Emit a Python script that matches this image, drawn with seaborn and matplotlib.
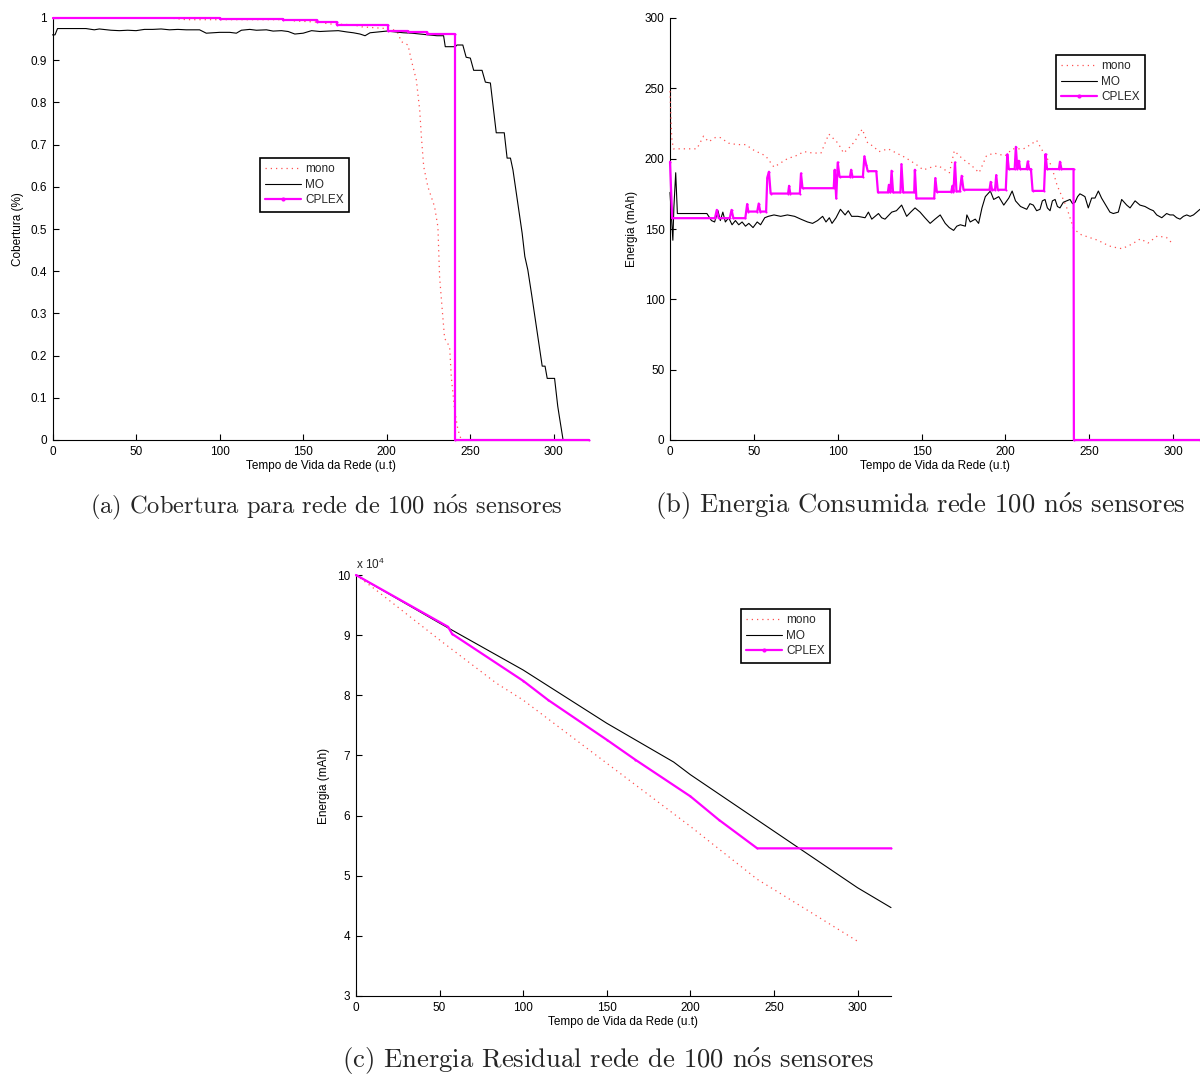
import matplotlib
matplotlib.use("Agg")
import matplotlib.pyplot as plt
from matplotlib.lines import Line2D
from matplotlib.ticker import FixedLocator, FuncFormatter
import seaborn as sns

# ---------------------------------------------------------------- data
# (a) coverage over the network lifetime
cob_mono_t = [0, 70, 80, 140, 145, 160, 165, 180, 185, 200,
              204, 206.7, 208.7, 212.7, 214.7, 217.7, 219.7, 220.7, 222.1, 224.6,
              228.6, 230.6, 231.6, 233.2, 234.6, 237.6, 238.6, 240.6, 242.6, 244.6]
cob_mono = [1.0, 1.0, 0.996, 0.996, 0.993, 0.990, 0.986, 0.984, 0.979, 0.975,
            0.972, 0.964, 0.944, 0.936, 0.900, 0.853, 0.782, 0.719, 0.648, 0.600,
            0.553, 0.505, 0.387, 0.308, 0.241, 0.221, 0.150, 0.071, 0.024, 0.0]

cob_mo_t = [0, 1.5, 3, 10, 20, 25, 28, 35, 40, 45,
            50, 55, 60, 65, 70, 75, 80, 88, 92, 96,
            100, 106, 110, 113, 118, 122, 128, 132, 137, 141,
            145, 150, 155, 160, 165, 171, 176, 180, 184, 187,
            190, 195, 200, 205, 210, 215, 220, 225, 230, 234,
            235, 241, 242, 245.5, 247.5, 250, 252, 257, 259, 262,
            265.5, 270.3, 272, 274, 275.5, 281, 282.6, 284.4, 286.7, 293,
            294.7, 296, 300.4, 302.3, 303.2, 305.5, 321]
cob_mo = [0.960, 0.960, 0.975, 0.975, 0.975, 0.972, 0.974, 0.971, 0.970, 0.971,
          0.970, 0.973, 0.973, 0.974, 0.972, 0.973, 0.972, 0.972, 0.964, 0.965,
          0.966, 0.966, 0.964, 0.971, 0.973, 0.971, 0.972, 0.969, 0.970, 0.968,
          0.962, 0.964, 0.970, 0.968, 0.969, 0.970, 0.967, 0.965, 0.962, 0.958,
          0.965, 0.967, 0.969, 0.967, 0.965, 0.964, 0.962, 0.960, 0.958, 0.958,
          0.932, 0.932, 0.936, 0.936, 0.907, 0.905, 0.876, 0.876, 0.848, 0.846,
          0.728, 0.728, 0.668, 0.668, 0.640, 0.490, 0.435, 0.403, 0.344, 0.175,
          0.175, 0.146, 0.146, 0.080, 0.057, 0.0, 0.0]

cob_cplex_t = [0, 100, 100, 138, 138, 158, 158, 170, 170, 200.7,
               200.7, 212.6, 212.6, 224, 224, 240.6, 240.6, 321]
cob_cplex = [1.0, 1.0, 0.998, 0.998, 0.995, 0.995, 0.990, 0.990, 0.983, 0.983,
             0.970, 0.970, 0.966, 0.966, 0.962, 0.962, 0.0, 0.0]

# (b) energy consumed per time unit
cons_mono_t = [0, 1, 2, 8, 16, 20, 23, 27, 30, 35,
               40, 45, 50, 57, 62, 66, 70, 75, 80, 85,
               90, 94.7, 100.2, 103.5, 107, 110, 114.6, 117.9, 121, 124.6,
               130, 135, 140, 144, 147.8, 151, 156, 160, 166.6, 169.5,
               174.3, 179.9, 184.3, 188.7, 193.1, 199.8, 204.2, 210.8, 215, 218.6,
               221.9, 224.5, 227.4, 230.8, 233, 236.3, 240.7, 245.1, 250, 255.1,
               261.7, 265, 269.5, 275, 280.5, 285, 290.5, 296, 299.3]
cons_mono = [248, 215, 207, 207, 207, 216, 212, 215, 215, 211,
             210, 210, 206, 202, 194, 197, 200, 202, 205, 204,
             204, 217.5, 211, 204, 208, 212, 221, 211, 209, 205,
             207, 204, 201, 198, 195, 192, 194, 195, 190, 205.6,
             200, 195, 190, 202, 204, 202, 207, 207, 210, 213,
             206, 201, 195, 181, 175, 166, 150, 146, 144, 142,
             138, 137, 136, 139, 143, 140, 145, 144, 140]

cons_mo_t = [0, 1.7, 2.3, 3.4, 4.4, 22, 24.7, 26.6, 28.6, 30,
             31.5, 33, 35, 37, 39, 41, 43, 45, 47, 49.5,
             52, 54, 56.5, 58.6, 62, 66, 70, 74.3, 78, 82,
             85, 88, 91, 93, 95, 96.6, 99, 101.6, 104.4, 106.3,
             108.3, 112, 116.3, 118.3, 120.3, 124.3, 126.2, 128.2, 132.2, 135,
             138.1, 141.1, 143.5, 146.1, 149.1, 152, 155.1, 158, 161.1, 164.1,
             166.5, 169.1, 171, 173.1, 176.1, 177, 179, 182, 184, 186,
             188, 191, 193, 196, 199, 202, 204, 206, 209, 212.7,
             214.6, 216.6, 218.6, 220.6, 222, 223.6, 225, 226.6, 228, 229.6,
             231, 232.5, 234.5, 236.5, 238.5, 240, 241.5, 243, 244.4, 246,
             247.4, 249.4, 251.4, 253.4, 255.4, 257.3, 260.3, 262.3, 264.3, 267.3,
             269.3, 272.3, 274.3, 277.3, 280.2, 283.2, 286.2, 288.2, 290.2, 293.2,
             296.1, 298.1, 300.1, 302.1, 304.1, 306.1, 308.1, 310.1, 312.1, 314.1,
             316]
cons_mo = [176, 142, 165, 190, 161, 161, 156, 155, 163, 156,
           162, 155, 158, 153, 156, 153, 155, 152, 154, 151,
           155, 153, 158, 159, 160, 159, 160, 159, 157, 155,
           154, 156, 159, 155, 158, 154, 158, 164, 160, 163,
           159, 159, 158, 162, 157, 161, 158, 157, 162, 163,
           167, 159, 162, 165, 162, 158, 154, 157, 160, 154,
           151, 149, 152, 153, 152, 160, 155, 157, 154, 165,
           173, 177, 171, 173, 167, 172, 177, 170, 166, 164,
           168, 167, 163, 164, 170, 171, 165, 163, 170, 171,
           166, 165, 169, 170, 171, 168, 169, 173, 175, 174,
           173, 165, 172, 172, 177, 172, 166, 162, 161, 162,
           171, 167, 165, 170, 167, 166, 164, 163, 160, 158,
           161, 160, 160, 158, 157, 159, 160, 159, 160, 162,
           164]

cons_cplex_t = [0, 1.3, 26.8, 27.9, 29, 35.6, 36.7, 37.8, 44.9, 46,
                46.7, 52, 52.9, 53.8, 57.3, 58, 59, 60, 70.4, 71,
                71.7, 77.4, 78.1, 79, 97.6, 98.2, 99.1, 100, 101.1, 107.3,
                108, 108.8, 115, 115.9, 117, 117.9, 123, 124, 129.9, 130.5,
                131.4, 132.1, 133, 137.4, 138, 139, 145.6, 146, 146.9, 157.5,
                158.2, 159.1, 167.7, 168.4, 169, 169.9, 170.8, 172.8, 173.9, 175,
                190.5, 191.2, 192, 193.8, 194.5, 195.4, 200.2, 201.1, 202, 205.5,
                206.2, 207.1, 208, 208.8, 212.6, 213.3, 214.2, 215.2, 216.2, 223,
                223.9, 224.8, 231.9, 232.5, 233.4, 240.6, 240.8, 316]
cons_cplex = [197.8, 157.7, 157.7, 163.6, 157.7, 157.7, 163.6, 157.7, 157.7, 167.7,
              162.4, 162.4, 168.1, 162.4, 162.4, 186.6, 190.7, 175.2, 175.2, 180.7,
              175.2, 175.2, 189.5, 179, 179, 192.1, 171.7, 197.3, 187.1, 187.1,
              192.1, 187.1, 187.1, 201.6, 195.6, 191.1, 191.1, 176, 176, 181.4,
              176, 191.4, 176, 176, 196.1, 176, 176, 192.1, 171.7, 171.7,
              186.2, 176.4, 176.4, 180.7, 176.4, 197.3, 176.7, 176.7, 187.8, 177.9,
              177.9, 183.5, 177.9, 177.9, 188.3, 177.9, 177.9, 203, 192.6, 192.6,
              208.4, 192.6, 198.5, 192.6, 192.6, 198, 192.6, 192.6, 177.1, 177.1,
              203.2, 192.6, 192.6, 197.8, 192.6, 192.6, 0, 0]

# (c) residual energy of the network (mAh)
res_mono_t = [0, 12, 50, 84, 100, 150, 200, 240, 250, 300]
res_mono = [100000, 97500, 89200, 82000, 79200, 68700, 58200, 49400, 47700, 39100]
res_mo_t = [0, 50, 100, 150, 190, 200, 250, 300, 320]
res_mo = [100000, 92000, 84200, 75350, 68900, 66800, 57400, 48000, 44700]
res_cplex_t = [0, 55, 57.5, 100, 115, 150, 167, 200, 217, 240, 320]
res_cplex = [100000, 91400, 90200, 82400, 79200, 72600, 69300, 63200, 59300, 54550, 54550]

series_names = ["mono", "MO", "CPLEX"]
x_ticks = [0, 50, 100, 150, 200, 250, 300]
xlabel = "Tempo de Vida da Rede (u.t)"
# "nós" is typeset with a math-mode acute accent so the serif face stays uniform
captions = [r"(a) Cobertura para rede de 100 n$\acute{\mathrm{o}}$s sensores",
            r"(b) Energia Consumida rede 100 n$\acute{\mathrm{o}}$s sensores",
            r"(c) Energia Residual rede de 100 n$\acute{\mathrm{o}}$s sensores"]

# ---------------------------------------------------------------- style
sns.set_theme(style="white")
plt.rcParams.update({
    "font.family": ["Liberation Sans", "DejaVu Sans"],
    "font.size": 8.5,
    "axes.edgecolor": "black",
    "axes.linewidth": 0.8,
    "axes.labelcolor": "black",
    "axes.labelsize": 8.5,
    "xtick.color": "black",
    "ytick.color": "black",
    "xtick.labelsize": 8.5,
    "ytick.labelsize": 8.5,
    "xtick.direction": "in",
    "ytick.direction": "in",
    "xtick.major.size": 4.5,
    "ytick.major.size": 4.5,
    "xtick.major.width": 0.8,
    "ytick.major.width": 0.8,
    "xtick.bottom": True,
    "ytick.left": True,
    "mathtext.fontset": "custom",
    "mathtext.rm": "Liberation Sans",
    "mathtext.default": "regular",
})

MONO_C = "#ff5050"
MO_C = "black"
CPLEX_C = "#ff00ff"

W, H = 1200, 1075
fig = plt.figure(figsize=(W / 100, H / 100), dpi=100)


def px_axes(left, right, top, bottom):
    return fig.add_axes([left / W, 1 - bottom / H, (right - left) / W, (bottom - top) / H])


def draw_series(ax, t_mono, v_mono, t_mo, v_mo, t_cp, v_cp):
    sns.lineplot(x=t_mono, y=v_mono, ax=ax, color=MONO_C, linewidth=0.9,
                 estimator=None, sort=False, legend=False)
    ax.lines[-1].set_dashes([1, 3.2])
    sns.lineplot(x=t_mo, y=v_mo, ax=ax, color=MO_C, linewidth=0.8,
                 estimator=None, sort=False, legend=False)
    sns.lineplot(x=t_cp, y=v_cp, ax=ax, color=CPLEX_C, linewidth=1.6,
                 marker=".", markersize=3, markeredgewidth=0,
                 estimator=None, sort=False, legend=False)
    for ln in ax.lines:
        ln.set_zorder(3)
        ln.set_clip_on(False)


def style_axes(ax, xlim, ylim, yticks, yfmt, ylabel):
    ax.set_xlim(*xlim)
    ax.set_ylim(*ylim)
    ax.xaxis.set_major_locator(FixedLocator(x_ticks))
    ax.yaxis.set_major_locator(FixedLocator(yticks))
    ax.yaxis.set_major_formatter(FuncFormatter(yfmt))
    ax.set_xlabel(xlabel, labelpad=2)
    ax.set_ylabel(ylabel, labelpad=5)
    ax.tick_params(axis="both", pad=4)
    for s in ("top", "right"):
        ax.spines[s].set_visible(False)
    ax.grid(False)


def add_legend(ax, left_px, top_px):
    handles = [
        Line2D([], [], color=MONO_C, linewidth=0.9, dashes=[1, 3.2]),
        Line2D([], [], color=MO_C, linewidth=0.8),
        Line2D([], [], color=CPLEX_C, linewidth=1.6, marker=".", markersize=4),
    ]
    leg = ax.legend(handles, series_names, loc="upper left",
                    bbox_to_anchor=(left_px / W, 1 - top_px / H),
                    bbox_transform=fig.transFigure, borderaxespad=0,
                    frameon=True, fancybox=False, shadow=False, framealpha=1,
                    edgecolor="black", borderpad=0.45, handlelength=3.0,
                    handletextpad=0.4, labelspacing=0.3, numpoints=1,
                    fontsize=8.5)
    leg.get_frame().set_linewidth(1.2)


# (a) coverage
ax_a = px_axes(52.5, 589, 18, 440)
draw_series(ax_a, cob_mono_t, cob_mono, cob_mo_t, cob_mo, cob_cplex_t, cob_cplex)
style_axes(ax_a, (0, 321), (0, 1), [i / 10 for i in range(11)],
           lambda v, p: "0" if v == 0 else ("1" if v == 1 else f"{v:.1f}"),
           "Cobertura (%)")
add_legend(ax_a, 260, 158)

# (b) consumed energy
ax_b = px_axes(670, 1200, 18, 440)
draw_series(ax_b, cons_mono_t, cons_mono, cons_mo_t, cons_mo, cons_cplex_t, cons_cplex)
style_axes(ax_b, (0, 316), (0, 300), list(range(0, 301, 50)),
           lambda v, p: f"{v:.0f}", "Energia (mAh)")
add_legend(ax_b, 1056, 55)

# (c) residual energy
ax_c = px_axes(356, 891, 575, 996)
draw_series(ax_c, res_mono_t, res_mono, res_mo_t, res_mo, res_cplex_t, res_cplex)
style_axes(ax_c, (0, 320), (30000, 100000), list(range(30000, 100001, 10000)),
           lambda v, p: f"{v / 1e4:.0f}", "Energia (mAh)")
ax_c.text(0, 1.006, r"x 10$^{4}$", transform=ax_c.transAxes, ha="left", va="bottom",
          fontsize=8.5)
add_legend(ax_c, 741, 609)

# ---------------------------------------------------------------- captions
cap_kw = dict(ha="center", va="baseline", family="cmr10", math_fontfamily="cm")
fig.text(326 / W, 1 - 513 / H, captions[0], fontsize=17.6, **cap_kw)
fig.text(920 / W, 1 - 513 / H, captions[1], fontsize=19.2, **cap_kw)
fig.text(608 / W, 1 - 1068 / H, captions[2], fontsize=19.2, **cap_kw)

fig.savefig("out.png", dpi=100)
